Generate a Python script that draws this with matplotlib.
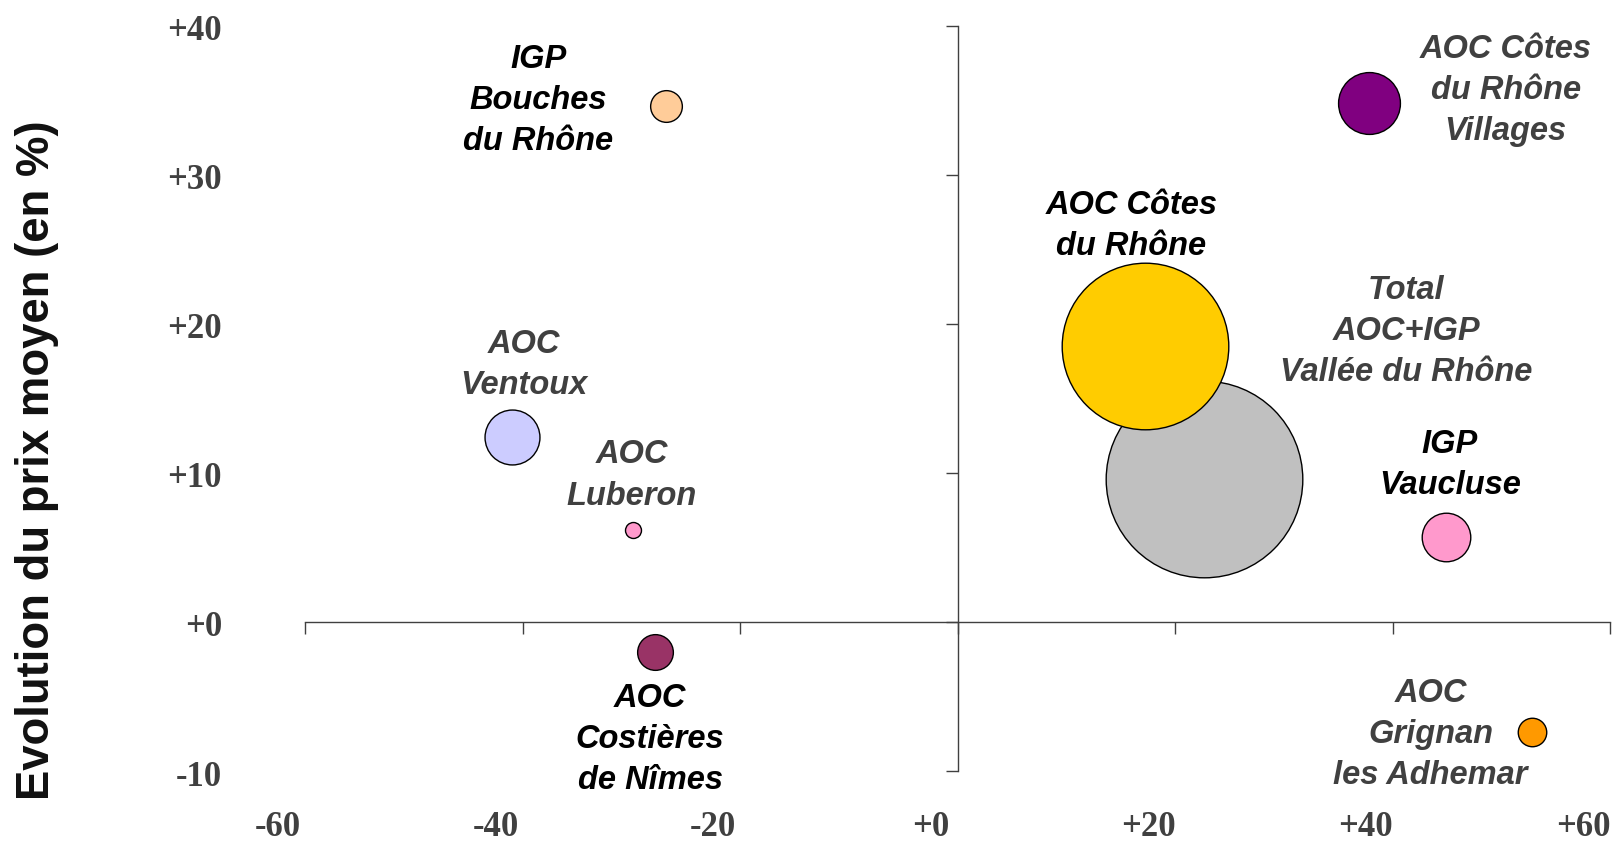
import matplotlib
matplotlib.use("Agg")
import matplotlib.pyplot as plt
import matplotlib.transforms as mtransforms

# données
labels = [
    "IGP\nBouches\ndu Rhône",
    "AOC Côtes\ndu Rhône\nVillages",
    "AOC Côtes\ndu Rhône",
    "Total\nAOC+IGP\nVallée du Rhône",
    "IGP\nVaucluse",
    "AOC\nVentoux",
    "AOC\nLuberon",
    "AOC\nCostières\nde Nîmes",
    "AOC\nGrignan\nles Adhemar",
]
evol_volume = [-26.8, 37.8, 17.2, 22.7, 44.9, -41.0, -29.8, -27.8, 52.8]
evol_prix = [34.6, 34.8, 18.5, 9.6, 5.7, 12.4, 6.2, -2.0, -7.4]
poids = [2.6, 9.9, 71.8, 100.0, 6.1, 7.8, 0.66, 3.3, 2.1]

couleurs = ["#FFCC99", "#800080", "#FFCC00", "#C0C0C0", "#FF99CC",
            "#CCCCFF", "#FF99CC", "#993366", "#FF9900"]
couleurs_txt = ["#000000", "#404040", "#000000", "#404040", "#000000",
                "#404040", "#404040", "#000000", "#404040"]
# décalage des étiquettes par rapport au centre de la bulle (pixels)
decalages = [(-128, 6), (137, 13), (-13, 120), (202, 147), (4, 72),
             (12, 72), (-2, 54), (-5, -88), (-101, -2)]

xticks = [-60, -40, -20, 0, 20, 40, 60]
yticks = [-10, 0, 10, 20, 30, 40]


def fmt(v):
    return f"+{v}" if v >= 0 else f"{v}"


fig = plt.figure(figsize=(16.17, 8.43), dpi=100)
ax = fig.add_axes([305 / 1617, 1 - 771 / 843, 1305 / 1617, 745.3 / 843])
ax.set_xlim(-60, 60)
ax.set_ylim(-10, 40)

axe_col = "#404040"
for s in ["top", "right"]:
    ax.spines[s].set_visible(False)
ax.spines["left"].set_position(("data", 0))
ax.spines["bottom"].set_position(("data", 0))
for s in ["left", "bottom"]:
    ax.spines[s].set_color(axe_col)
    ax.spines[s].set_linewidth(1.0)
ax.set_xticks(xticks)
ax.set_yticks(yticks)
ax.tick_params(axis="both", direction="out", length=8.6, width=1.0,
               color=axe_col, labelbottom=False, labelleft=False)

# bulles : les plus grosses en premier
k = 200.4
ordre = sorted(range(len(poids)), key=lambda i: -poids[i])
for i in ordre:
    ax.scatter(evol_volume[i], evol_prix[i], s=poids[i] * k, color=couleurs[i],
               edgecolor="black", linewidth=1.0, zorder=3, clip_on=False)

for i, lab in enumerate(labels):
    ax.annotate(lab, (evol_volume[i], evol_prix[i]), xytext=decalages[i],
                textcoords="offset pixels", ha="center", va="center",
                fontsize=23.5, fontweight="bold", fontstyle="italic",
                family="Liberation Sans", color=couleurs_txt[i],
                linespacing=1.42, zorder=4)

# étiquettes des axes placées en bord de graphique
decal_x = mtransforms.ScaledTranslation(-27 / 100, 0, fig.dpi_scale_trans)
decal_y = mtransforms.ScaledTranslation(0, -6 / 100, fig.dpi_scale_trans)
for v in xticks:
    ax.text(v, (771 - 827) / 745.3, fmt(v), transform=ax.get_xaxis_transform() + decal_x,
            ha="center", va="center", fontsize=25, fontweight="bold",
            family="Liberation Serif", color=axe_col)
for v in yticks:
    ax.text((222 - 305) / 1305, v, fmt(v), transform=ax.get_yaxis_transform() + decal_y,
            ha="right", va="center", fontsize=25, fontweight="bold",
            family="Liberation Serif", color=axe_col)

fig.text(37 / 1617, 1 - 460 / 843, "Evolution du prix moyen (en %)",
         rotation=90, ha="center", va="center", fontsize=32.8, fontweight="bold",
         family="Liberation Sans", color="#111111")

fig.savefig("out.png", dpi=100)
